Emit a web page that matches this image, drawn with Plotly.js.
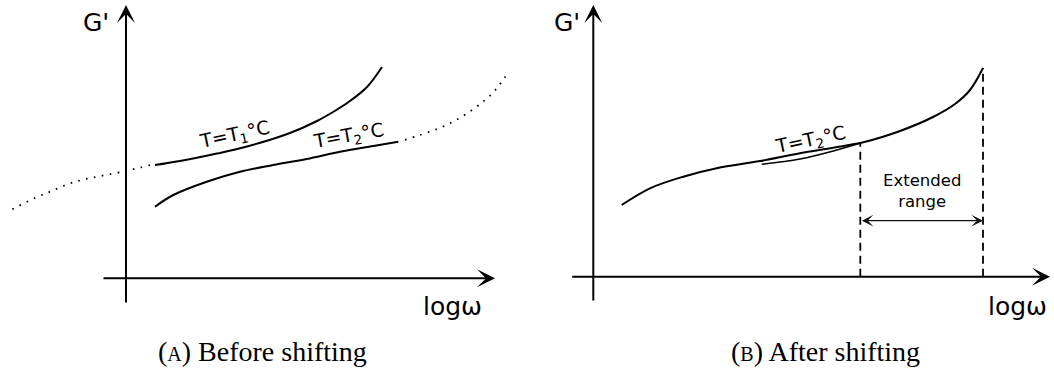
<!DOCTYPE html>
<html>
<head>
<meta charset="utf-8">
<script src="https://cdn.plot.ly/plotly-3.0.1.min.js"></script>
<style>
  html, body { margin: 0; padding: 0; background: #ffffff; }
  #chart { width: 1054px; height: 372px; }
</style>
</head>
<body>
<div id="chart"></div>
<script>
// Time–temperature superposition sketch: G' against log(omega), in schematic units
// with the origin at the crossing of the two drawn axes.

// (A) Before shifting: measured windows at two temperatures
const t1LogW = [2.9, 5.4, 9.1, 12.1, 16.4, 19.1, 20.7, 22.4, 24.1, 25.6];
const t1G    = [11.33, 11.73, 12.48, 13.18, 14.53, 15.73, 16.63, 17.73, 19.13, 21.13];
const t2LogW = [2.9, 4.73, 8.07, 11.4, 14.73, 18.07, 21.4, 24.73, 27.23];
const t2G    = [7.16, 8.33, 9.66, 10.66, 11.33, 11.93, 12.66, 13.23, 13.66];
// unmeasured parts of the response, drawn dotted
const lowTailLogW  = [-11.37, -9.17, -7.6, -6.03, -4.43, 0, 2.4];
const lowTailG     = [6.9, 8.0, 8.66, 9.33, 9.83, 10.73, 11.33];
const highTailLogW = [27.9, 29.2, 31.1, 32.9, 34.6, 35.7, 36.7, 37.5, 38.3];
const highTailG    = [13.85, 14.26, 14.93, 15.76, 16.83, 17.66, 18.56, 19.56, 20.73];

// (B) After shifting: master curve and the T2 window laid against it
const masterLogW  = [2.84, 5.67, 9.0, 12.34, 16.67, 20.67, 24.0, 27.0, 30.67, 33.97, 36.17, 37.67, 38.97];
const masterG     = [7.17, 8.84, 10.0, 10.84, 11.56, 12.34, 12.9, 13.44, 14.57, 15.97, 17.27, 18.67, 20.87];
const shiftedLogW = [16.84, 20.67, 24.0, 26.7];
const shiftedG    = [11.24, 11.77, 12.57, 13.37];
const rangeArrowG = 5.6;

// axis extents (tail, tip) for the hand-drawn arrowed axes
const axesA = { xTail: -2.4, xTip: 36.9, yTail: -2.57, yTip: 27.33 };
const axesB = { xTail: -2.26, xTip: 45.67, yTail: -2.53, yTip: 27.17 };

const sans = 'DejaVu Sans, Verdana, sans-serif';
const serif = 'Liberation Serif, Times New Roman, serif';

function line(x, y, xa, ya, opts) {
  return Object.assign({
    x: x, y: y, xaxis: xa, yaxis: ya, mode: 'lines', hoverinfo: 'skip',
    line: { color: '#000000', width: 2, shape: 'spline', smoothing: 1 }
  }, opts || {});
}

const mEndX = masterLogW[masterLogW.length - 1];
const mEndY = masterG[masterG.length - 1];
const sEndX = shiftedLogW[shiftedLogW.length - 1];
const sEndY = shiftedG[shiftedG.length - 1];

const dotted = { color: '#000000', width: 1.8, dash: '1.6px,6.4px', shape: 'spline', smoothing: 1 };
const dashed = { color: '#000000', width: 1.8, dash: '8px,5px' };

const traces = [
  line(lowTailLogW, lowTailG, 'x', 'y', { line: dotted }),
  line(highTailLogW, highTailG, 'x', 'y', { line: dotted }),
  line(t1LogW, t1G, 'x', 'y'),
  line(t2LogW, t2G, 'x', 'y'),
  line(masterLogW, masterG, 'x2', 'y2'),
  line(shiftedLogW, shiftedG, 'x2', 'y2', { line: { color: '#000000', width: 1.6, shape: 'spline', smoothing: 1 } }),
  line([sEndX, sEndX], [0, sEndY], 'x2', 'y2', { line: dashed }),
  line([mEndX, mEndX], [0, mEndY], 'x2', 'y2', { line: dashed })
];

function arrow(xr, yr, tipX, tipY, tailX, tailY, extra) {
  return Object.assign({
    xref: xr, yref: yr, axref: xr, ayref: yr,
    x: tipX, y: tipY, ax: tailX, ay: tailY, text: '',
    showarrow: true, arrowhead: 3, arrowsize: 1.5, arrowwidth: 2,
    arrowcolor: '#000000', standoff: 0, startstandoff: 0
  }, extra || {});
}

function label(xr, yr, x, y, text, size, extra) {
  return Object.assign({
    xref: xr, yref: yr, x: x, y: y, text: text, showarrow: false,
    xanchor: 'center', yanchor: 'middle',
    font: { family: sans, size: size, color: '#000000' }
  }, extra || {});
}

const captionFont = { family: serif, size: 28, color: '#000000' };

const annotations = [
  arrow('x', 'y', 0, axesA.yTip, 0, axesA.yTail),
  arrow('x', 'y', axesA.xTip, 0, axesA.xTail, 0),
  arrow('x2', 'y2', 0, axesB.yTip, 0, axesB.yTail),
  arrow('x2', 'y2', axesB.xTip, 0, axesB.xTail, 0),
  arrow('x2', 'y2', mEndX, rangeArrowG, sEndX, rangeArrowG, {
    arrowside: 'end+start', arrowwidth: 1.3, arrowsize: 1.5, startarrowsize: 1.5,
    startarrowhead: 3, arrowcolor: '#111111'
  }),

  label('x', 'y', -3.0, 25.6, "G'", 25),
  label('x', 'y', 32.6, -2.77, 'logω', 25),
  label('x2', 'y2', -2.6, 25.45, "G'", 25),
  label('x2', 'y2', 42.42, -2.93, 'logω', 25),

  label('x', 'y', 10.8, 14.33, 'T=T<sub>1</sub>°C', 19, { textangle: -12 }),
  label('x', 'y', 22.23, 14.16, 'T=T<sub>2</sub>°C', 19, { textangle: -10 }),
  label('x2', 'y2', 21.74, 13.6, 'T=T<sub>2</sub>°C', 19, { textangle: -12 }),
  label('x2', 'y2', 32.87, 8.57, 'Extended<br>range', 16.5),

  label('paper', 'paper', 0.2486, 0.054,
    "(<span style='font-size:20px'>A</span>) Before shifting", 28, { font: captionFont }),
  label('paper', 'paper', 0.7832, 0.054,
    "(<span style='font-size:20px'>B</span>) After shifting", 28, { font: captionFont })
];

const hidden = {
  showgrid: false, zeroline: false, showline: false, showticklabels: false,
  ticks: '', fixedrange: true
};

const layout = {
  width: 1054, height: 372,
  margin: { l: 0, r: 0, t: 0, b: 0, pad: 0 },
  paper_bgcolor: '#ffffff', plot_bgcolor: '#ffffff',
  showlegend: false,
  xaxis:  Object.assign({ domain: [0, 0.5], range: [-12.6, 40.1] }, hidden),
  yaxis:  Object.assign({ domain: [0, 1], range: [-9.37, 27.83] }, hidden),
  xaxis2: Object.assign({ domain: [0.5, 1], range: [-6.63, 46.07], anchor: 'y2' }, hidden),
  yaxis2: Object.assign({ domain: [0, 1], range: [-9.53, 27.67], anchor: 'x2' }, hidden),
  annotations: annotations
};

Plotly.newPlot('chart', traces, layout, { staticPlot: true, displayModeBar: false });
</script>
</body>
</html>
